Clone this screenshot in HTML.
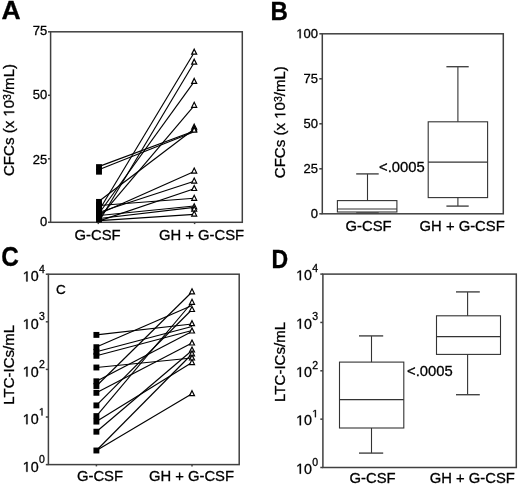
<!DOCTYPE html>
<html><head><meta charset="utf-8"><style>
html,body{margin:0;padding:0;background:#fff;}
svg{display:block;will-change:transform;}
text{font-family:"Liberation Sans", sans-serif;fill:#000;stroke:#000;stroke-width:0.3px;}
.one{fill:none;stroke:none;}
</style></head><body>
<svg width="520" height="485" viewBox="0 0 520 485">
<rect x="0" y="0" width="520" height="485" fill="#fff"/>
<text x="1.50" y="18.70" font-size="26.5" text-anchor="start" font-weight="bold" >A</text>
<rect x="50.60" y="31.80" width="191.70" height="190.50" stroke="#404040" stroke-width="1.5" fill="none"/>
<line x1="48.00" y1="222.30" x2="50.60" y2="222.30" stroke="#404040" stroke-width="1.5"/>
<text x="47.30" y="226.30" font-size="13" text-anchor="end" font-weight="normal" >0</text>
<line x1="48.00" y1="158.80" x2="50.60" y2="158.80" stroke="#404040" stroke-width="1.5"/>
<text x="47.30" y="163.50" font-size="13" text-anchor="end" font-weight="normal" >25</text>
<line x1="48.00" y1="95.30" x2="50.60" y2="95.30" stroke="#404040" stroke-width="1.5"/>
<text x="47.30" y="99.40" font-size="13" text-anchor="end" font-weight="normal" >50</text>
<line x1="48.00" y1="31.80" x2="50.60" y2="31.80" stroke="#404040" stroke-width="1.5"/>
<text x="47.30" y="35.30" font-size="13" text-anchor="end" font-weight="normal" >75</text>
<line x1="98.30" y1="222.30" x2="98.30" y2="224.10" stroke="#404040" stroke-width="1.5"/>
<line x1="194.60" y1="222.30" x2="194.60" y2="224.10" stroke="#404040" stroke-width="1.5"/>
<text x="74.60" y="239.60" font-size="14.8" text-anchor="start" font-weight="normal" >G-CSF</text>
<text x="159.00" y="239.60" font-size="14.8" text-anchor="start" font-weight="normal" >GH + G-CSF</text>
<text transform="translate(14.20,176.00) rotate(-90)" font-size="15.05">CFCs (x <tspan class="one">1</tspan>0<tspan font-size="10.5" dy="-3.6">3</tspan><tspan dy="3.6">/mL)</tspan></text>
<text transform="translate(270.6,19.8) scale(0.91,1)" font-size="26.5" font-weight="bold">B</text>
<rect x="322.30" y="33.80" width="181.00" height="180.00" stroke="#404040" stroke-width="1.5" fill="none"/>
<line x1="319.30" y1="213.80" x2="322.30" y2="213.80" stroke="#404040" stroke-width="1.5"/>
<text x="318.00" y="218.20" font-size="13" text-anchor="end" font-weight="normal" >0</text>
<line x1="319.30" y1="168.80" x2="322.30" y2="168.80" stroke="#404040" stroke-width="1.5"/>
<text x="318.00" y="173.20" font-size="13" text-anchor="end" font-weight="normal" >25</text>
<line x1="319.30" y1="123.80" x2="322.30" y2="123.80" stroke="#404040" stroke-width="1.5"/>
<text x="318.00" y="128.20" font-size="13" text-anchor="end" font-weight="normal" >50</text>
<line x1="319.30" y1="78.80" x2="322.30" y2="78.80" stroke="#404040" stroke-width="1.5"/>
<text x="318.00" y="83.20" font-size="13" text-anchor="end" font-weight="normal" >75</text>
<line x1="319.30" y1="33.80" x2="322.30" y2="33.80" stroke="#404040" stroke-width="1.5"/>
<text x="318.00" y="38.20" font-size="13" text-anchor="end" font-weight="normal" ><tspan class="one">1</tspan>00</text>
<text x="345.60" y="230.80" font-size="14.8" text-anchor="start" font-weight="normal" >G-CSF</text>
<text x="419.60" y="230.80" font-size="14.8" text-anchor="start" font-weight="normal" >GH + G-CSF</text>
<text transform="translate(285.30,178.20) rotate(-90)" font-size="15.05">CFCs (x <tspan class="one">1</tspan>0<tspan font-size="10.5" dy="-3.6">3</tspan><tspan dy="3.6">/mL)</tspan></text>
<rect x="337.40" y="200.60" width="59.50" height="11.40" stroke="#333" stroke-width="1.1" fill="none"/>
<line x1="337.40" y1="209.00" x2="396.90" y2="209.00" stroke="#333" stroke-width="1.1"/>
<line x1="367.50" y1="173.90" x2="367.50" y2="200.60" stroke="#333" stroke-width="1.1"/>
<line x1="356.20" y1="173.90" x2="378.70" y2="173.90" stroke="#444" stroke-width="1.4"/>
<line x1="356.20" y1="213.00" x2="378.70" y2="213.00" stroke="#444" stroke-width="1.6"/>
<rect x="428.20" y="121.80" width="59.40" height="75.80" stroke="#333" stroke-width="1.1" fill="none"/>
<line x1="428.20" y1="162.10" x2="487.60" y2="162.10" stroke="#333" stroke-width="1.1"/>
<line x1="457.90" y1="66.50" x2="457.90" y2="121.80" stroke="#333" stroke-width="1.1"/>
<line x1="446.40" y1="66.70" x2="468.70" y2="66.70" stroke="#444" stroke-width="1.4"/>
<line x1="457.90" y1="197.60" x2="457.90" y2="206.10" stroke="#333" stroke-width="1.1"/>
<line x1="446.40" y1="206.10" x2="468.70" y2="206.10" stroke="#444" stroke-width="1.4"/>
<text x="379.00" y="172.20" font-size="14.8" text-anchor="start" font-weight="normal" >&lt;.0005</text>
<text transform="translate(1.3,265.8) scale(0.92,1.06)" font-size="26.5" font-weight="bold">C</text>
<rect x="48.40" y="274.20" width="190.80" height="190.40" stroke="#404040" stroke-width="1.5" fill="none"/>
<line x1="45.80" y1="464.60" x2="48.40" y2="464.60" stroke="#404040" stroke-width="1.5"/>
<text x="38.6" y="471.80" font-size="14.3" text-anchor="end"><tspan class="one">1</tspan>0</text>
<text x="38.9" y="463.00" font-size="10.5">0</text>
<line x1="45.80" y1="417.00" x2="48.40" y2="417.00" stroke="#404040" stroke-width="1.5"/>
<text x="38.6" y="424.20" font-size="14.3" text-anchor="end"><tspan class="one">1</tspan>0</text>
<text x="38.9" y="415.40" font-size="10.5"><tspan class="one">1</tspan></text>
<line x1="45.80" y1="369.40" x2="48.40" y2="369.40" stroke="#404040" stroke-width="1.5"/>
<text x="38.6" y="376.60" font-size="14.3" text-anchor="end"><tspan class="one">1</tspan>0</text>
<text x="38.9" y="367.80" font-size="10.5">2</text>
<line x1="45.80" y1="321.80" x2="48.40" y2="321.80" stroke="#404040" stroke-width="1.5"/>
<text x="38.6" y="329.00" font-size="14.3" text-anchor="end"><tspan class="one">1</tspan>0</text>
<text x="38.9" y="320.20" font-size="10.5">3</text>
<line x1="45.80" y1="274.20" x2="48.40" y2="274.20" stroke="#404040" stroke-width="1.5"/>
<text x="38.6" y="281.40" font-size="14.3" text-anchor="end"><tspan class="one">1</tspan>0</text>
<text x="38.9" y="272.60" font-size="10.5">4</text>
<line x1="96.40" y1="464.60" x2="96.40" y2="466.40" stroke="#404040" stroke-width="1.5"/>
<line x1="192.00" y1="464.60" x2="192.00" y2="466.40" stroke="#404040" stroke-width="1.5"/>
<text x="77.00" y="480.50" font-size="14.8" text-anchor="start" font-weight="normal" >G-CSF</text>
<text x="148.90" y="481.00" font-size="14.8" text-anchor="start" font-weight="normal" >GH + G-CSF</text>
<text transform="translate(13.90,404.80) rotate(-90)" font-size="15.05">LTC-ICs/mL</text>
<text x="56.00" y="293.80" font-size="13.5" text-anchor="start" font-weight="normal" >C</text>
<text transform="translate(271.5,267.5) scale(0.87,1)" font-size="26.5" font-weight="bold">D</text>
<rect x="322.90" y="274.10" width="193.40" height="193.40" stroke="#404040" stroke-width="1.5" fill="none"/>
<line x1="320.30" y1="467.50" x2="322.90" y2="467.50" stroke="#404040" stroke-width="1.5"/>
<text x="312.0" y="473.70" font-size="14.3" text-anchor="end"><tspan class="one">1</tspan>0</text>
<text x="312.3" y="465.50" font-size="10.5">0</text>
<line x1="320.30" y1="419.15" x2="322.90" y2="419.15" stroke="#404040" stroke-width="1.5"/>
<text x="312.0" y="425.35" font-size="14.3" text-anchor="end"><tspan class="one">1</tspan>0</text>
<text x="312.3" y="417.15" font-size="10.5"><tspan class="one">1</tspan></text>
<line x1="320.30" y1="370.80" x2="322.90" y2="370.80" stroke="#404040" stroke-width="1.5"/>
<text x="312.0" y="377.00" font-size="14.3" text-anchor="end"><tspan class="one">1</tspan>0</text>
<text x="312.3" y="368.80" font-size="10.5">2</text>
<line x1="320.30" y1="322.45" x2="322.90" y2="322.45" stroke="#404040" stroke-width="1.5"/>
<text x="312.0" y="328.65" font-size="14.3" text-anchor="end"><tspan class="one">1</tspan>0</text>
<text x="312.3" y="320.45" font-size="10.5">3</text>
<line x1="320.30" y1="274.10" x2="322.90" y2="274.10" stroke="#404040" stroke-width="1.5"/>
<text x="312.0" y="280.30" font-size="14.3" text-anchor="end"><tspan class="one">1</tspan>0</text>
<text x="312.3" y="272.10" font-size="10.5">4</text>
<text x="349.60" y="483.20" font-size="14.8" text-anchor="start" font-weight="normal" >G-CSF</text>
<text x="429.80" y="482.70" font-size="14.8" text-anchor="start" font-weight="normal" >GH + G-CSF</text>
<text transform="translate(284.90,401.90) rotate(-90)" font-size="15.05">LTC-ICs/mL</text>
<rect x="339.50" y="362.10" width="64.30" height="65.90" stroke="#333" stroke-width="1.1" fill="none"/>
<line x1="339.50" y1="399.60" x2="403.80" y2="399.60" stroke="#333" stroke-width="1.1"/>
<line x1="371.50" y1="335.90" x2="371.50" y2="362.10" stroke="#333" stroke-width="1.1"/>
<line x1="359.00" y1="335.90" x2="383.20" y2="335.90" stroke="#444" stroke-width="1.4"/>
<line x1="371.50" y1="428.00" x2="371.50" y2="453.10" stroke="#333" stroke-width="1.1"/>
<line x1="359.00" y1="453.10" x2="383.20" y2="453.10" stroke="#444" stroke-width="1.4"/>
<rect x="436.50" y="315.80" width="64.00" height="38.60" stroke="#333" stroke-width="1.1" fill="none"/>
<line x1="436.50" y1="336.60" x2="500.50" y2="336.60" stroke="#333" stroke-width="1.1"/>
<line x1="467.60" y1="291.90" x2="467.60" y2="315.80" stroke="#333" stroke-width="1.1"/>
<line x1="456.00" y1="291.90" x2="479.80" y2="291.90" stroke="#444" stroke-width="1.4"/>
<line x1="467.60" y1="354.40" x2="467.60" y2="394.70" stroke="#333" stroke-width="1.1"/>
<line x1="456.00" y1="394.70" x2="479.80" y2="394.70" stroke="#444" stroke-width="1.4"/>
<text x="407.00" y="376.40" font-size="14.8" text-anchor="start" font-weight="normal" >&lt;.0005</text>
<line x1="99.30" y1="166.40" x2="194.20" y2="131.00" stroke="#000" stroke-width="1.15"/>
<line x1="99.30" y1="169.50" x2="194.20" y2="131.80" stroke="#000" stroke-width="1.15"/>
<line x1="99.30" y1="201.00" x2="194.20" y2="129.00" stroke="#000" stroke-width="1.15"/>
<line x1="99.30" y1="210.00" x2="194.20" y2="52.50" stroke="#000" stroke-width="1.15"/>
<line x1="99.30" y1="221.00" x2="194.20" y2="62.50" stroke="#000" stroke-width="1.15"/>
<line x1="99.30" y1="213.00" x2="194.20" y2="81.70" stroke="#000" stroke-width="1.15"/>
<line x1="99.30" y1="217.60" x2="194.20" y2="105.60" stroke="#000" stroke-width="1.15"/>
<line x1="99.30" y1="213.80" x2="194.20" y2="171.40" stroke="#000" stroke-width="1.15"/>
<line x1="99.30" y1="212.30" x2="194.20" y2="181.30" stroke="#000" stroke-width="1.15"/>
<line x1="99.30" y1="220.90" x2="194.20" y2="188.80" stroke="#000" stroke-width="1.15"/>
<line x1="99.30" y1="205.50" x2="194.20" y2="198.30" stroke="#000" stroke-width="1.15"/>
<line x1="99.30" y1="215.50" x2="194.20" y2="206.00" stroke="#000" stroke-width="1.15"/>
<line x1="99.30" y1="218.50" x2="194.20" y2="207.40" stroke="#000" stroke-width="1.15"/>
<line x1="99.30" y1="220.60" x2="194.20" y2="214.40" stroke="#000" stroke-width="1.15"/>
<rect x="96.05" y="164.15" width="5.9" height="5.9" fill="#000"/>
<rect x="96.05" y="168.75" width="5.9" height="5.9" fill="#000"/>
<rect x="96.05" y="198.95" width="5.9" height="5.9" fill="#000"/>
<rect x="96.05" y="202.05" width="5.9" height="5.9" fill="#000"/>
<rect x="96.05" y="205.05" width="5.9" height="5.9" fill="#000"/>
<rect x="96.05" y="208.05" width="5.9" height="5.9" fill="#000"/>
<rect x="96.05" y="211.05" width="5.9" height="5.9" fill="#000"/>
<rect x="96.05" y="214.05" width="5.9" height="5.9" fill="#000"/>
<rect x="96.05" y="216.55" width="5.9" height="5.9" fill="#000"/>
<path d="M194.20,49.20 L196.70,54.20 L191.70,54.20 Z" fill="#fff" stroke="#000" stroke-width="1.2" stroke-linejoin="miter"/>
<path d="M194.20,59.20 L196.70,64.20 L191.70,64.20 Z" fill="#fff" stroke="#000" stroke-width="1.2" stroke-linejoin="miter"/>
<path d="M194.20,78.40 L196.70,83.40 L191.70,83.40 Z" fill="#fff" stroke="#000" stroke-width="1.2" stroke-linejoin="miter"/>
<path d="M194.20,102.30 L196.70,107.30 L191.70,107.30 Z" fill="#fff" stroke="#000" stroke-width="1.2" stroke-linejoin="miter"/>
<path d="M194.20,124.20 L196.70,129.20 L191.70,129.20 Z" fill="#fff" stroke="#000" stroke-width="1.2" stroke-linejoin="miter"/>
<path d="M194.20,126.00 L196.70,131.00 L191.70,131.00 Z" fill="#fff" stroke="#000" stroke-width="1.2" stroke-linejoin="miter"/>
<path d="M194.20,127.20 L196.70,132.20 L191.70,132.20 Z" fill="#fff" stroke="#000" stroke-width="1.2" stroke-linejoin="miter"/>
<path d="M194.20,168.10 L196.70,173.10 L191.70,173.10 Z" fill="#fff" stroke="#000" stroke-width="1.2" stroke-linejoin="miter"/>
<path d="M194.20,178.10 L196.70,183.10 L191.70,183.10 Z" fill="#fff" stroke="#000" stroke-width="1.2" stroke-linejoin="miter"/>
<path d="M194.20,185.50 L196.70,190.50 L191.70,190.50 Z" fill="#fff" stroke="#000" stroke-width="1.2" stroke-linejoin="miter"/>
<path d="M194.20,195.30 L196.70,200.30 L191.70,200.30 Z" fill="#fff" stroke="#000" stroke-width="1.2" stroke-linejoin="miter"/>
<path d="M194.20,203.80 L196.70,208.80 L191.70,208.80 Z" fill="#fff" stroke="#000" stroke-width="1.2" stroke-linejoin="miter"/>
<path d="M194.20,206.20 L196.70,211.20 L191.70,211.20 Z" fill="#fff" stroke="#000" stroke-width="1.2" stroke-linejoin="miter"/>
<path d="M194.20,211.10 L196.70,216.10 L191.70,216.10 Z" fill="#fff" stroke="#000" stroke-width="1.2" stroke-linejoin="miter"/>
<line x1="96.40" y1="334.90" x2="192.00" y2="324.00" stroke="#000" stroke-width="1.15"/>
<line x1="96.40" y1="347.00" x2="192.00" y2="305.50" stroke="#000" stroke-width="1.15"/>
<line x1="96.40" y1="351.80" x2="192.00" y2="326.50" stroke="#000" stroke-width="1.15"/>
<line x1="96.40" y1="355.80" x2="192.00" y2="330.50" stroke="#000" stroke-width="1.15"/>
<line x1="96.40" y1="367.50" x2="192.00" y2="358.00" stroke="#000" stroke-width="1.15"/>
<line x1="96.40" y1="381.30" x2="192.00" y2="331.50" stroke="#000" stroke-width="1.15"/>
<line x1="96.40" y1="386.00" x2="192.00" y2="292.00" stroke="#000" stroke-width="1.15"/>
<line x1="96.40" y1="392.80" x2="192.00" y2="343.00" stroke="#000" stroke-width="1.15"/>
<line x1="96.40" y1="405.40" x2="192.00" y2="309.50" stroke="#000" stroke-width="1.15"/>
<line x1="96.40" y1="416.10" x2="192.00" y2="302.50" stroke="#000" stroke-width="1.15"/>
<line x1="96.40" y1="421.60" x2="192.00" y2="362.60" stroke="#000" stroke-width="1.15"/>
<line x1="96.40" y1="431.70" x2="192.00" y2="350.50" stroke="#000" stroke-width="1.15"/>
<line x1="96.40" y1="450.50" x2="192.00" y2="354.00" stroke="#000" stroke-width="1.15"/>
<line x1="96.40" y1="450.50" x2="192.00" y2="393.70" stroke="#000" stroke-width="1.15"/>
<rect x="93.45" y="331.95" width="5.9" height="5.9" fill="#000"/>
<rect x="93.45" y="344.25" width="5.9" height="5.9" fill="#000"/>
<rect x="93.45" y="348.85" width="5.9" height="5.9" fill="#000"/>
<rect x="93.45" y="352.85" width="5.9" height="5.9" fill="#000"/>
<rect x="93.45" y="364.55" width="5.9" height="5.9" fill="#000"/>
<rect x="93.45" y="378.35" width="5.9" height="5.9" fill="#000"/>
<rect x="93.45" y="383.05" width="5.9" height="5.9" fill="#000"/>
<rect x="93.45" y="389.85" width="5.9" height="5.9" fill="#000"/>
<rect x="93.45" y="402.45" width="5.9" height="5.9" fill="#000"/>
<rect x="93.45" y="413.15" width="5.9" height="5.9" fill="#000"/>
<rect x="93.45" y="418.65" width="5.9" height="5.9" fill="#000"/>
<rect x="93.45" y="428.75" width="5.9" height="5.9" fill="#000"/>
<rect x="93.45" y="447.55" width="5.9" height="5.9" fill="#000"/>
<path d="M192.00,288.80 L194.50,293.80 L189.50,293.80 Z" fill="#fff" stroke="#000" stroke-width="1.2" stroke-linejoin="miter"/>
<path d="M192.00,299.30 L194.50,304.30 L189.50,304.30 Z" fill="#fff" stroke="#000" stroke-width="1.2" stroke-linejoin="miter"/>
<path d="M192.00,306.50 L194.50,311.50 L189.50,311.50 Z" fill="#fff" stroke="#000" stroke-width="1.2" stroke-linejoin="miter"/>
<path d="M192.00,320.70 L194.50,325.70 L189.50,325.70 Z" fill="#fff" stroke="#000" stroke-width="1.2" stroke-linejoin="miter"/>
<path d="M192.00,328.00 L194.50,333.00 L189.50,333.00 Z" fill="#fff" stroke="#000" stroke-width="1.2" stroke-linejoin="miter"/>
<path d="M192.00,340.00 L194.50,345.00 L189.50,345.00 Z" fill="#fff" stroke="#000" stroke-width="1.2" stroke-linejoin="miter"/>
<path d="M192.00,347.00 L194.50,352.00 L189.50,352.00 Z" fill="#fff" stroke="#000" stroke-width="1.2" stroke-linejoin="miter"/>
<path d="M192.00,350.80 L194.50,355.80 L189.50,355.80 Z" fill="#fff" stroke="#000" stroke-width="1.2" stroke-linejoin="miter"/>
<path d="M192.00,355.00 L194.50,360.00 L189.50,360.00 Z" fill="#fff" stroke="#000" stroke-width="1.2" stroke-linejoin="miter"/>
<path d="M192.00,359.60 L194.50,364.60 L189.50,364.60 Z" fill="#fff" stroke="#000" stroke-width="1.2" stroke-linejoin="miter"/>
<path d="M192.00,390.70 L194.50,395.70 L189.50,395.70 Z" fill="#fff" stroke="#000" stroke-width="1.2" stroke-linejoin="miter"/>
<path transform="translate(14.20,176.00) rotate(-90) translate(59.344,0.000) scale(0.007349,-0.007349)" d="M515,0L515,1237L197,1010L197,1180L530,1409L696,1409L696,0Z" fill="#000" stroke="#000" stroke-width="0.3" vector-effect="non-scaling-stroke"/>
<path transform="translate(296.297,38.200) scale(0.006348,-0.006348)" d="M515,0L515,1237L197,1010L197,1180L530,1409L696,1409L696,0Z" fill="#000" stroke="#000" stroke-width="0.3" vector-effect="non-scaling-stroke"/>
<path transform="translate(285.30,178.20) rotate(-90) translate(59.344,0.000) scale(0.007349,-0.007349)" d="M515,0L515,1237L197,1010L197,1180L530,1409L696,1409L696,0Z" fill="#000" stroke="#000" stroke-width="0.3" vector-effect="non-scaling-stroke"/>
<path transform="translate(22.694,471.800) scale(0.006982,-0.006982)" d="M515,0L515,1237L197,1010L197,1180L530,1409L696,1409L696,0Z" fill="#000" stroke="#000" stroke-width="0.3" vector-effect="non-scaling-stroke"/>
<path transform="translate(22.694,424.200) scale(0.006982,-0.006982)" d="M515,0L515,1237L197,1010L197,1180L530,1409L696,1409L696,0Z" fill="#000" stroke="#000" stroke-width="0.3" vector-effect="non-scaling-stroke"/>
<path transform="translate(38.900,415.400) scale(0.005127,-0.005127)" d="M515,0L515,1237L197,1010L197,1180L530,1409L696,1409L696,0Z" fill="#000" stroke="#000" stroke-width="0.3" vector-effect="non-scaling-stroke"/>
<path transform="translate(22.694,376.600) scale(0.006982,-0.006982)" d="M515,0L515,1237L197,1010L197,1180L530,1409L696,1409L696,0Z" fill="#000" stroke="#000" stroke-width="0.3" vector-effect="non-scaling-stroke"/>
<path transform="translate(22.694,329.000) scale(0.006982,-0.006982)" d="M515,0L515,1237L197,1010L197,1180L530,1409L696,1409L696,0Z" fill="#000" stroke="#000" stroke-width="0.3" vector-effect="non-scaling-stroke"/>
<path transform="translate(22.694,281.400) scale(0.006982,-0.006982)" d="M515,0L515,1237L197,1010L197,1180L530,1409L696,1409L696,0Z" fill="#000" stroke="#000" stroke-width="0.3" vector-effect="non-scaling-stroke"/>
<path transform="translate(296.094,473.700) scale(0.006982,-0.006982)" d="M515,0L515,1237L197,1010L197,1180L530,1409L696,1409L696,0Z" fill="#000" stroke="#000" stroke-width="0.3" vector-effect="non-scaling-stroke"/>
<path transform="translate(296.094,425.350) scale(0.006982,-0.006982)" d="M515,0L515,1237L197,1010L197,1180L530,1409L696,1409L696,0Z" fill="#000" stroke="#000" stroke-width="0.3" vector-effect="non-scaling-stroke"/>
<path transform="translate(312.300,417.150) scale(0.005127,-0.005127)" d="M515,0L515,1237L197,1010L197,1180L530,1409L696,1409L696,0Z" fill="#000" stroke="#000" stroke-width="0.3" vector-effect="non-scaling-stroke"/>
<path transform="translate(296.094,377.000) scale(0.006982,-0.006982)" d="M515,0L515,1237L197,1010L197,1180L530,1409L696,1409L696,0Z" fill="#000" stroke="#000" stroke-width="0.3" vector-effect="non-scaling-stroke"/>
<path transform="translate(296.094,328.650) scale(0.006982,-0.006982)" d="M515,0L515,1237L197,1010L197,1180L530,1409L696,1409L696,0Z" fill="#000" stroke="#000" stroke-width="0.3" vector-effect="non-scaling-stroke"/>
<path transform="translate(296.094,280.300) scale(0.006982,-0.006982)" d="M515,0L515,1237L197,1010L197,1180L530,1409L696,1409L696,0Z" fill="#000" stroke="#000" stroke-width="0.3" vector-effect="non-scaling-stroke"/>
</svg>
</body></html>
